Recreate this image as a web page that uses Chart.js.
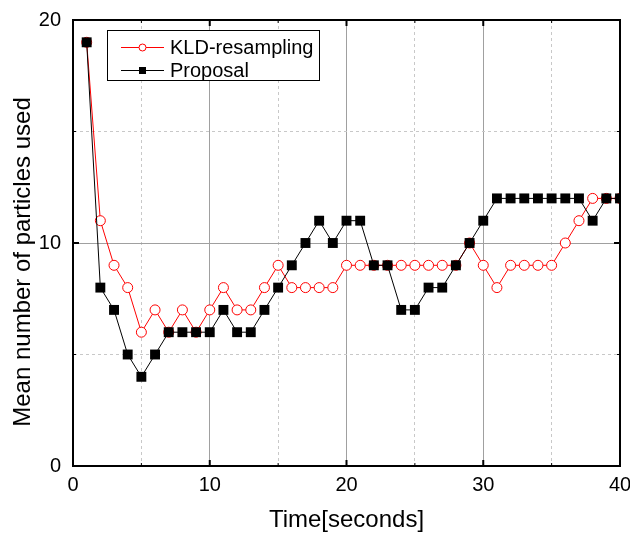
<!DOCTYPE html>
<html><head><meta charset="utf-8">
<script src="https://cdn.jsdelivr.net/npm/chart.js@4/dist/chart.umd.min.js"></script>
<style>html,body{margin:0;padding:0;background:#fff}#wrap{width:630px;height:536px}</style>
</head><body><div id="wrap"><canvas id="c" width="630" height="536"></canvas></div>
<script>
const times = [1,2,3,4,5,6,7,8,9,10,11,12,13,14,15,16,17,18,19,20,21,22,23,24,25,26,27,28,29,30,31,32,33,34,35,36,37,38,39,40];
const kldValues = [19,11,9,8,6,7,6,7,6,7,8,7,7,8,9,8,8,8,8,9,9,9,9,9,9,9,9,9,10,9,8,9,9,9,9,10,11,12,12,12];
const proposalValues = [19,8,7,5,4,5,6,6,6,6,7,6,6,7,8,9,10,11,10,11,11,9,9,7,7,8,8,9,10,11,12,12,12,12,12,12,12,11,12,12];
const xTicks = [0,10,20,30,40];
const yTicks = [0,10,20];
const seriesNames = ['KLD-resampling','Proposal'];
const xTitle = 'Time[seconds]';
const yTitle = 'Mean number of particles used';

const FONT = "'Liberation Sans', Arial, sans-serif";
Chart.defaults.font.family = FONT;
Chart.defaults.color = '#000';

const toPts = vals => times.map((t,i)=>({x:t,y:vals[i]}));

const framePlugin = {
  id:'frame',
  afterDraw(chart){
    const {ctx, chartArea:a, scales} = chart;
    ctx.save();
    ctx.strokeStyle = '#000';
    scales.x.ticks.forEach(t=>{
      const px = scales.x.getPixelForValue(t.value);
      const major = t.value % 10 === 0;
      const len = major ? 6 : 3;
      ctx.lineWidth = major ? 2 : 1;
      ctx.beginPath();
      ctx.moveTo(px, a.bottom); ctx.lineTo(px, a.bottom - len);
      ctx.moveTo(px, a.top); ctx.lineTo(px, a.top + len);
      ctx.stroke();
    });
    scales.y.ticks.forEach(t=>{
      const py = scales.y.getPixelForValue(t.value);
      const major = t.value % 10 === 0;
      const len = major ? 6 : 3;
      ctx.lineWidth = major ? 2 : 1;
      ctx.beginPath();
      ctx.moveTo(a.left, py); ctx.lineTo(a.left + len, py);
      ctx.moveTo(a.right, py); ctx.lineTo(a.right - len, py);
      ctx.stroke();
    });
    ctx.lineWidth = 2;
    ctx.strokeRect(a.left, a.top, a.right - a.left, a.bottom - a.top);
    // y axis title
    ctx.save();
    ctx.translate(23, 262);
    ctx.rotate(-Math.PI/2);
    ctx.fillStyle = '#000';
    ctx.font = "24px " + FONT;
    ctx.textAlign = 'center';
    ctx.textBaseline = 'middle';
    ctx.fillText(yTitle, 0, 0);
    ctx.restore();
    // legend
    const bx = 107, by = 30, bw = 212, bh = 50;
    ctx.fillStyle = '#fff';
    ctx.fillRect(bx, by, bw, bh);
    ctx.lineWidth = 1;
    ctx.strokeStyle = '#000';
    ctx.strokeRect(bx+0.5, by+0.5, bw, bh);
    chart.data.datasets.forEach((ds,i)=>{
      const y = 47 + i*23;
      ctx.strokeStyle = ds.borderColor;
      ctx.lineWidth = 1;
      ctx.beginPath(); ctx.moveTo(121, y+0.5); ctx.lineTo(164, y+0.5); ctx.stroke();
      if (ds.pointStyle === 'circle') {
        ctx.fillStyle = '#fff';
        ctx.beginPath(); ctx.arc(142.5, y+0.5, 3.5, 0, Math.PI*2); ctx.fill(); ctx.stroke();
      } else {
        ctx.fillStyle = ds.pointBackgroundColor;
        ctx.fillRect(139, y-3, 7, 7);
      }
      ctx.fillStyle = '#000';
      ctx.font = "20px " + FONT;
      ctx.textBaseline = 'middle';
      ctx.textAlign = 'left';
      ctx.fillText(ds.label, 170, y+1);
    });
    ctx.restore();
  }
};

const gridColor = c => (c.tick && c.tick.value % 10 === 0) ? '#a0a0a0' : '#c8c8c8';
const gridDash = c => (c.tick && c.tick.value % 10 !== 0) ? [3,3] : [];

new Chart(document.getElementById('c'), {
  type:'line',
  data:{
    datasets:[
      {label:seriesNames[0], data:toPts(kldValues), borderColor:'#ff0000', borderWidth:1,
       pointStyle:'circle', pointRadius:5, pointBackgroundColor:'#ffffff', pointBorderColor:'#ff0000', pointBorderWidth:1, order:2},
      {label:seriesNames[1], data:toPts(proposalValues), borderColor:'#000000', borderWidth:1,
       pointStyle:'rect', pointRadius:7, pointBackgroundColor:'#000000', pointBorderColor:'#000000', pointBorderWidth:0, order:1}
    ]
  },
  options:{
    responsive:false, animation:false, devicePixelRatio:1,
    layout:{padding:{left:0, right:10, top:20, bottom:0}},
    plugins:{legend:{display:false}, tooltip:{enabled:false}},
    scales:{
      x:{type:'linear', min:0, max:40,
        ticks:{stepSize:5, autoSkip:false, maxRotation:0, padding:7, font:{size:20},
          callback:v => xTicks.includes(v) ? String(v) : ''},
        grid:{drawTicks:false, color:gridColor, lineWidth:1},
        border:{color:'#000', width:2, dash:gridDash},
        title:{display:true, text:xTitle, font:{size:24}, padding:{top:0,bottom:1}},
        afterFit:s=>{s.height = 70; s.paddingLeft = 0; s.paddingRight = 0;}
      },
      y:{type:'linear', min:0, max:20,
        ticks:{stepSize:5, autoSkip:false, padding:12, font:{size:20},
          callback:v => yTicks.includes(v) ? String(v) : ''},
        grid:{drawTicks:false, color:gridColor, lineWidth:1},
        border:{color:'#000', width:2, dash:gridDash},
        title:{display:false, text:yTitle},
        afterFit:s=>{s.width = 73; s.paddingTop = 0; s.paddingBottom = 0;}
      }
    }
  },
  plugins:[framePlugin]
});
</script></body></html>
